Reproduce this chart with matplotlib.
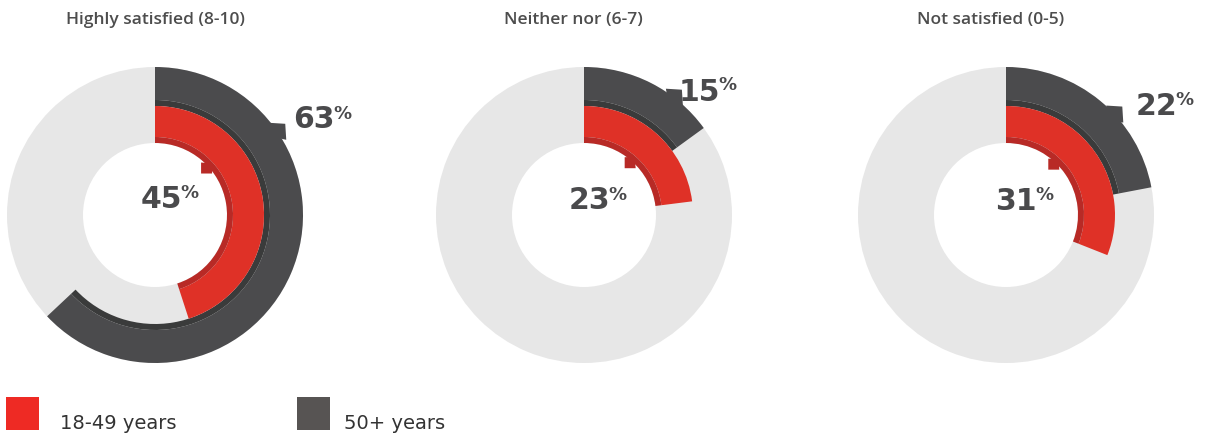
import math
import matplotlib
matplotlib.use("Agg")
import matplotlib.pyplot as plt
from matplotlib.patches import Wedge, Rectangle, Polygon

# Satisfaction share by age group
titles = ["Highly satisfied (8-10)", "Neither nor (6-7)", "Not satisfied (0-5)"]
young_pct = [45, 23, 31]   # 18-49 years (inner ring)
older_pct = [63, 15, 22]   # 50+ years (outer ring)
legend_labels = ["18-49 years", "50+ years"]

# Colours
LIGHT = "#e7e7e7"
DARK = "#4b4b4d"
DARK_EDGE = "#3a3b3b"
RED = "#df3127"
RED_EDGE = "#b82a26"
TEXT = "#4a4a4c"
LEG_RED = "#ee2a24"
LEG_GRAY = "#575453"

# Layout (pixel units, y grows downward)
W, H = 1210, 437
centers = [(155, 215), (584, 215), (1006, 215)]
title_x = [155, 573, 991]
R_OUT, R_DARK_IN, R_SHADOW_IN, R_RED_IN, R_HOLE = 148, 115, 109, 78, 72
outer_tab_angle = [55, 38, 47]
inner_tab_angle = [48, 41, 43]
# label anchors: (split x between number and %, baseline y, top y)
outer_lbl = [(335, 128, 106), (720, 101, 77), (1177, 115, 92)]
inner_lbl = [(182, 208, 185), (610, 209, 187), (1037, 210, 187)]

fig = plt.figure(figsize=(W / 100, H / 100), dpi=100)
ax = fig.add_axes([0, 0, 1, 1])
ax.set_xlim(0, W)
ax.set_ylim(H, 0)
ax.axis("off")

NUM_FONT = dict(family="DejaVu Sans", weight="bold", color=TEXT)


def arc(c, r, frac, width, color, z):
    # clockwise from 12 o'clock (y axis is inverted)
    ax.add_patch(Wedge(c, r, -90, -90 + 360 * frac / 100.0, width=width,
                       facecolor=color, edgecolor="none", zorder=z))


def point_at(c, r, ang):
    a = math.radians(ang)
    return c[0] + r * math.sin(a), c[1] - r * math.cos(a)


for i, c in enumerate(centers):
    # background track
    ax.add_patch(Wedge(c, R_OUT, 0, 360, width=R_OUT - R_HOLE,
                       facecolor=LIGHT, edgecolor="none", zorder=1))

    # outer ring (50+)
    arc(c, R_OUT, older_pct[i], R_OUT - R_DARK_IN, DARK, 3)
    arc(c, R_DARK_IN, older_pct[i], R_DARK_IN - R_SHADOW_IN, DARK_EDGE, 3)

    # inner ring (18-49)
    arc(c, R_SHADOW_IN, young_pct[i], R_SHADOW_IN - R_RED_IN, RED, 3)
    arc(c, R_RED_IN, young_pct[i], R_RED_IN - R_HOLE, RED_EDGE, 3)

    # callout tabs pointing at the value labels
    cx_, cy_ = point_at(c, 159, outer_tab_angle[i])
    dx_, dy_ = point_at(c, R_OUT - 10, outer_tab_angle[i])
    s = 16
    ax.add_patch(Polygon([(cx_, cy_), (cx_ - s, cy_ - 1), (dx_, dy_),
                          (cx_ + 1, cy_ + s)], closed=True,
                         facecolor=DARK, edgecolor="none", zorder=2))
    cx_, cy_ = point_at(c, 62, inner_tab_angle[i])
    dx_, dy_ = point_at(c, R_HOLE + 5, inner_tab_angle[i])
    s2 = 11
    ax.add_patch(Polygon([(cx_, cy_), (cx_ + s2, cy_), (dx_, dy_),
                          (cx_, cy_ - s2)], closed=True,
                         facecolor=RED_EDGE, edgecolor="none", zorder=2))

    # titles
    ax.text(title_x[i], 20, titles[i], ha="center", va="center",
            fontsize=12.5, color="#4d4d4d", fontweight="semibold",
            family=["Open Sans", "DejaVu Sans"])

    # value labels
    for val, (sx, base, top) in ((older_pct[i], outer_lbl[i]),
                                 (young_pct[i], inner_lbl[i])):
        ax.text(sx, base, f"{val}", ha="right", va="baseline",
                fontsize=21.5, zorder=5, **NUM_FONT)
        ax.text(sx - 2, top - 1, "%", ha="left", va="top",
                fontsize=13, zorder=5, **NUM_FONT)

# legend
ax.add_patch(Rectangle((6, 397), 33, 33, facecolor=LEG_RED, edgecolor="none"))
ax.text(60, 429, legend_labels[0], ha="left", va="baseline", fontsize=14,
        color="#333333", family="DejaVu Sans")
ax.add_patch(Rectangle((297, 397), 33, 33, facecolor=LEG_GRAY, edgecolor="none"))
ax.text(344, 429, legend_labels[1], ha="left", va="baseline", fontsize=14,
        color="#333333", family="DejaVu Sans")

fig.savefig("out.png", dpi=100, facecolor="white")
